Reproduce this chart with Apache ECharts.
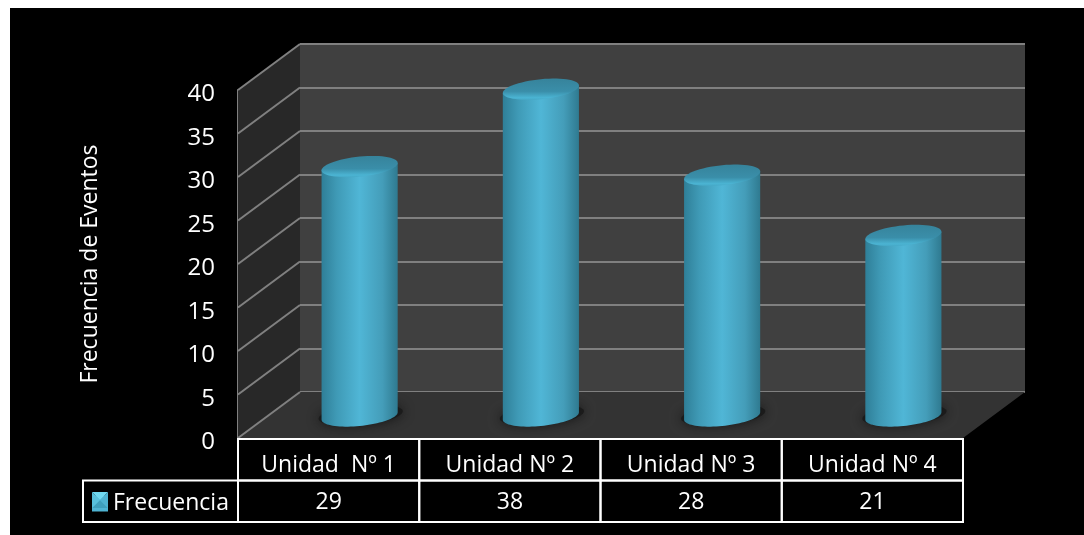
<!DOCTYPE html>
<html>
<head>
<meta charset="utf-8">
<style>html,body{margin:0;padding:0;background:#fff}#c{width:1084px;height:535px}</style>
<script src="https://cdn.jsdelivr.net/npm/echarts@6/dist/echarts.min.js"></script>
</head>
<body>
<div id="c"></div>
<script>
const categories = ['Unidad  Nº 1', 'Unidad Nº 2', 'Unidad Nº 3', 'Unidad Nº 4'];
const frecuencia = [29, 38, 28, 21];
const seriesName = 'Frecuencia';
const yTicks = [0, 5, 10, 15, 20, 25, 30, 35, 40];
const yTitle = 'Frecuencia de Eventos';

const DX = 62, DY = -46;
const G = echarts.graphic;
const chart = echarts.init(document.getElementById('c'), null, {renderer: 'canvas'});

function ellipsePts(cx, cy, rx, ry, skew, t0, t1, n) {
  const pts = [];
  for (let i = 0; i <= n; i++) {
    const t = t0 + (t1 - t0) * i / n;
    pts.push([cx + rx * Math.cos(t), cy + ry * Math.sin(t) - skew * Math.cos(t)]);
  }
  return pts;
}

function renderWalls(params, api) {
  const v = api.value(0);
  const f = api.coord([0, v]);
  const left = f[0] - api.size([1, 0])[0] / 2;
  const children = [];
  if (params.dataIndex === 0) {
    const w = api.size([1, 0])[0] * categories.length;
    const y0 = f[1];
    const yTop = api.coord([0, yTicks[yTicks.length - 1]])[1];
    children.push({type: 'polygon', shape: {points: [[left, yTop], [left + DX, yTop + DY], [left + DX, y0 + DY], [left, y0]]}, style: {fill: '#282828'}});
    children.push({type: 'polygon', shape: {points: [[left, y0], [left + DX, y0 + DY], [left + w + DX, y0 + DY], [left + w, y0]]}, style: {fill: '#333333'}});
  }
  children.push({type: 'line', shape: {x1: left, y1: f[1], x2: left + DX, y2: f[1] + DY}, style: {stroke: '#808080', lineWidth: 2}});
  return {type: 'group', children};
}

function renderBar(params, api) {
  const c = api.coord([api.value(0), api.value(1)]);
  const b = api.coord([api.value(0), 0]);
  const rx = api.size([1, 0])[0] * 0.21, ry = 10, sk = 3.7;
  const poly = [[c[0] - rx, c[1] + sk]].concat(ellipsePts(b[0], b[1], rx, ry, sk, Math.PI, 0, 40), [[c[0] + rx, c[1] - sk]]);
  return {type: 'group', children: [
    {type: 'polygon', shape: {points: ellipsePts(b[0] + 1, b[1] - 1, rx + 4, ry, sk, 0, Math.PI * 2, 60)},
      style: {fill: 'rgba(25,25,25,0.9)', shadowBlur: 12, shadowColor: 'rgba(15,15,15,0.9)'}},
    {type: 'polygon', shape: {points: poly},
      style: {fill: new G.LinearGradient(0, 0, 1, 0, [
        {offset: 0, color: '#2f7f98'}, {offset: 0.2, color: '#3f9ab6'}, {offset: 0.5, color: '#50b6d6'},
        {offset: 0.8, color: '#449db9'}, {offset: 1, color: '#2f7a90'}])}},
    {type: 'polygon', shape: {points: ellipsePts(c[0], c[1], rx, ry, sk, 0, Math.PI * 2, 60)},
      style: {fill: new G.LinearGradient(0, 0, 0, 1, [
        {offset: 0, color: '#36839b'}, {offset: 0.6, color: '#3a8ea9'}, {offset: 0.9, color: '#4bb4d3'}, {offset: 1, color: '#45a8c6'}])}}
  ]};
}

function renderTable(params, api) {
  const i = api.value(0);
  const p = api.coord([i, 0]);
  const w = api.size([1, 0])[0];
  const x = p[0] - w / 2, y = p[1] + 1, h = 41.5;
  const line = {stroke: '#ffffff', fill: 'transparent', lineWidth: 2};
  const children = [
    {type: 'rect', shape: {x, y, width: w, height: h}, style: line},
    {type: 'rect', shape: {x, y: y + h, width: w, height: h}, style: line},
    {type: 'text', x: p[0], y: y + h * 1.5 + 1, style: {text: String(api.value(1)), fill: '#fff', font: '23px "Open Sans"', align: 'center', verticalAlign: 'middle'}}
  ];
  if (i === 0) {
    children.push({type: 'rect', shape: {x: x - 155, y: y + h, width: 155, height: h}, style: line});
  }
  return {type: 'group', children};
}

const option = {
  animation: false,
  backgroundColor: '#ffffff',
  graphic: [
    {type: 'rect', z: -10, silent: true, shape: {x: 10, y: 8, width: 1074, height: 527}, style: {fill: '#000'}},
    {type: 'polygon', z: 100, silent: true, shape: {points: [[92, 492], [108, 492], [100, 500]]}, style: {fill: '#6fd8f0'}},
    {type: 'polygon', z: 100, silent: true, shape: {points: [[92, 508], [108, 508], [100, 500]]}, style: {fill: '#3f9fbc'}},
    {type: 'polygon', z: 100, silent: true, shape: {points: [[92, 492], [92, 508], [100, 500]]}, style: {fill: '#58c0dc'}},
    {type: 'polygon', z: 100, silent: true, shape: {points: [[108, 492], [108, 508], [100, 500]]}, style: {fill: '#4eb2d0'}}
  ],
  legend: {
    data: [seriesName], left: 92, top: 492, itemWidth: 16, itemHeight: 16, itemGap: 6, padding: 0, selectedMode: false,
    icon: 'rect',
    textStyle: {color: '#fff', fontFamily: 'Open Sans', fontSize: 23}
  },
  grid: [
    {left: 300, right: 59, top: 44, bottom: 143, show: true, backgroundColor: '#404040', borderWidth: 0, containLabel: false},
    {left: 238, right: 121, top: 90, bottom: 97, containLabel: false},
    {left: 269, right: 90, top: 72, bottom: 119, containLabel: false}
  ],
  xAxis: [
    {gridIndex: 0, type: 'category', data: categories, show: false},
    {gridIndex: 1, type: 'category', data: categories, axisLine: {show: false}, axisTick: {show: false},
      axisLabel: {color: '#fff', fontFamily: 'Open Sans', fontSize: 23, margin: 16, interval: 0}},
    {gridIndex: 2, type: 'category', data: categories, show: false}
  ],
  yAxis: [
    {gridIndex: 0, type: 'value', min: 0, max: 40, interval: 5, axisLine: {show: false}, axisTick: {show: false}, axisLabel: {show: false},
      splitLine: {show: true, lineStyle: {color: '#808080', width: 2}}},
    {gridIndex: 1, type: 'value', min: 0, max: 40, interval: 5, name: yTitle, nameLocation: 'middle', nameGap: 136, nameRotate: 90,
      nameTextStyle: {color: '#fff', fontFamily: 'Open Sans', fontSize: 23},
      axisLine: {show: true, lineStyle: {color: '#808080', width: 2}}, axisTick: {show: false},
      axisLabel: {color: '#fff', fontFamily: 'Open Sans', fontSize: 24, margin: 23, verticalAlign: 'middle',
        formatter: '{n|{value}}', rich: {n: {color: '#fff', fontFamily: 'Open Sans', fontSize: 24, padding: [9, 0, 0, 0]}}},
      splitLine: {show: false}},
    {gridIndex: 2, type: 'value', min: 0, max: 40, interval: 5, show: false}
  ],
  series: [
    {type: 'custom', name: 'paredes', xAxisIndex: 1, yAxisIndex: 1, z: 1, silent: true, clip: false,
      data: yTicks.map(v => [v]), encode: {y: 0}, renderItem: renderWalls},
    {type: 'custom', name: seriesName, xAxisIndex: 2, yAxisIndex: 2, z: 3, clip: false, itemStyle: {color: '#4fb4d3'},
      data: frecuencia.map((v, i) => [i, v]), encode: {x: 0, y: 1}, renderItem: renderBar},
    {type: 'custom', name: 'tabla', xAxisIndex: 1, yAxisIndex: 1, z: 4, silent: true, clip: false,
      data: frecuencia.map((v, i) => [i, v]), encode: {x: 0, y: 1}, renderItem: renderTable}
  ]
};
chart.setOption(option);
</script>
</body>
</html>
